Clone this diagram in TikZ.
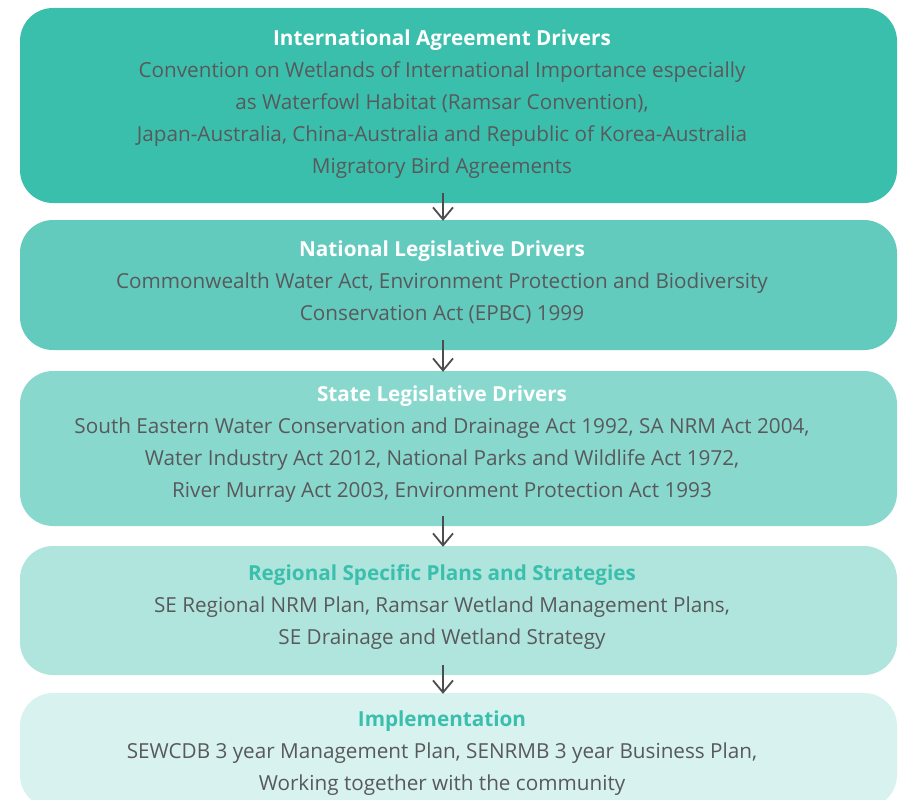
\documentclass[tikz,border=0pt]{standalone}
\usepackage{fontspec}
\setmainfont{Open Sans}
\usetikzlibrary{arrows.meta}
\definecolor{tealA}{HTML}{3BBFAD}
\definecolor{tealB}{HTML}{62CBBE}
\definecolor{tealC}{HTML}{89D8CE}
\definecolor{tealD}{HTML}{B0E5DE}
\definecolor{tealE}{HTML}{D8F2EF}
\definecolor{bodygrey}{HTML}{58595B}
\definecolor{arrowgrey}{HTML}{4D4D4F}
\begin{document}
\begin{tikzpicture}[x=1pt,y=-1pt,
  panel/.style={rounded corners=33pt, minimum width=877pt, inner sep=0pt},
  words/.style={align=center, text=bodygrey, inner sep=0pt, font=\fontsize{20.7}{32}\selectfont},
  link/.style={draw=arrowgrey, line width=1.8pt, shorten <=-10pt, shorten >=-1pt,
    -{Straight Barb[length=12pt,width=20pt,line width=1.8pt]}}]
\useasboundingbox (0,0) rectangle (899,800);
% boxes
\node[panel, fill=tealA, minimum height=195pt] (box1) at (458.5,105.5) {};
\node[panel, fill=tealB, minimum height=130pt] (box2) at (458.5,285) {};
\node[panel, fill=tealC, minimum height=155pt] (box3) at (458.5,448.5) {};
\node[panel, fill=tealD, minimum height=129pt] (box4) at (458.5,610.5) {};
\node[panel, fill=tealE, minimum height=115pt] (box5) at (458.5,750.5) {};
% texts
\node[words] (t1) at (442,104) {{\bfseries\color{white}International Agreement Drivers}\\
  Convention on Wetlands of International Importance especially\\
  as Waterfowl Habitat (Ramsar Convention),\\
  Japan-Australia, China-Australia and Republic of Korea-Australia\\
  Migratory Bird Agreements};
\node[words] (t2) at (442,282) {{\bfseries\color{white}National Legislative Drivers}\\
  Commonwealth Water Act, Environment Protection and Biodiversity\\
  Conservation Act (EPBC) 1999};
\node[words] (t3) at (442,444) {{\bfseries\color{white}State Legislative Drivers}\\
  South Eastern Water Conservation and Drainage Act 1992, SA NRM Act 2004,\\
  Water Industry Act 2012, National Parks and Wildlife Act 1972,\\
  River Murray Act 2003, Environment Protection Act 1993};
\node[words] (t4) at (442,607) {{\bfseries\color{tealA}Regional Specific Plans and Strategies}\\
  SE Regional NRM Plan, Ramsar Wetland Management Plans,\\
  SE Drainage and Wetland Strategy};
\node[words] (t5) at (442,753) {{\bfseries\color{tealA}Implementation}\\
  SEWCDB 3 year Management Plan, SENRMB 3 year Business Plan,\\
  Working together with the community};
% arrows
\coordinate (axis) at (443,0);
\draw[link] (box1.south -| axis) -- (box2.north -| axis);
\draw[link] (box2.south -| axis) -- (box3.north -| axis);
\draw[link] (box3.south -| axis) -- (box4.north -| axis);
\draw[link] (box4.south -| axis) -- (box5.north -| axis);
\end{tikzpicture}
\end{document}
